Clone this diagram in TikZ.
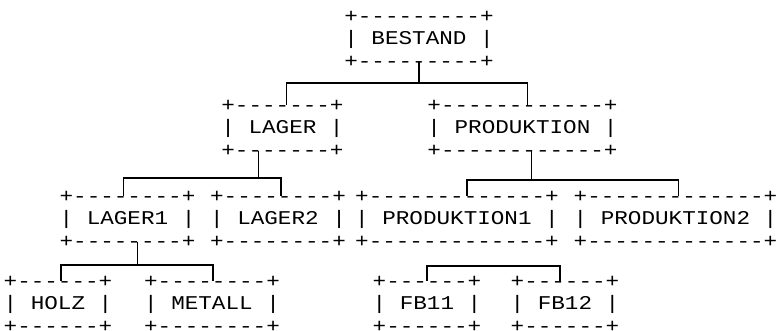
\documentclass[tikz,border=0pt]{standalone}
\usepackage{fontspec}
\setmonofont{Liberation Mono}[FakeStretch=1.16]
\usetikzlibrary{calc}

\begin{document}
\begin{tikzpicture}[x=1pt,y=-1pt,
  box/.style={font=\ttfamily\fontsize{19.5}{22.5}\selectfont,align=center,inner sep=0pt,outer ysep=-5pt},
  link/.style={line width=1.3pt}]
  \useasboundingbox (0,0) rectangle (777,331);
  \node[box] (bestand) at (419,39) {+---------+\\| BESTAND |\\+---------+};
  \node[box] (lager) at (282.5,128) {+-------+\\| LAGER |\\+-------+};
  \node[box] (produktion) at (522.5,128) {+------------+\\| PRODUKTION |\\+------------+};
  \node[box] (lager1) at (127.5,219) {+--------+\\| LAGER1 |\\+--------+};
  \node[box] (lager2) at (278,219) {+--------+\\| LAGER2 |\\+--------+};
  \node[box] (produktion1) at (457,219) {+-------------+\\| PRODUKTION1 |\\+-------------+};
  \node[box] (produktion2) at (675.5,219) {+-------------+\\| PRODUKTION2 |\\+-------------+};
  \node[box] (holz) at (58,304) {+------+\\| HOLZ |\\+------+};
  \node[box] (metall) at (212,304) {+--------+\\| METALL |\\+--------+};
  \node[box] (fb11) at (427,304) {+------+\\| FB11 |\\+------+};
  \node[box] (fb12) at (565,304) {+------+\\| FB12 |\\+------+};
  \draw[link] (bestand.south) -- ++(0,21) -| ($(lager.north)+(4,0)$);
  \draw[link] (bestand.south) -- ++(0,21) -| ($(produktion.north)+(5,0)$);
  \draw[link] ($(lager.south)+(-24,0)$) -- ++(0,27) -| ($(lager1.north)+(-4,0)$);
  \draw[link] ($(lager.south)+(-24,0)$) -- ++(0,27) -| ($(lager2.north)+(3,0)$);
  \draw[link] ($(produktion.south)+(9,0)$) -- ++(0,29) -| ($(produktion1.north)+(10,0)$);
  \draw[link] ($(produktion.south)+(9,0)$) -- ++(0,29) -| ($(produktion2.north)+(3,0)$);
  \draw[link] ($(lager1.south)+(10,0)$) -- ++(0,23) -| ($(holz.north)+(3,0)$);
  \draw[link] ($(lager1.south)+(10,0)$) -- ++(0,23) -| ($(metall.north)+(1,0)$);
  \draw[link] (fb11.north) -- ++(0,-15) -| ($(fb12.north)+(-5,0)$);
\end{tikzpicture}
\end{document}
